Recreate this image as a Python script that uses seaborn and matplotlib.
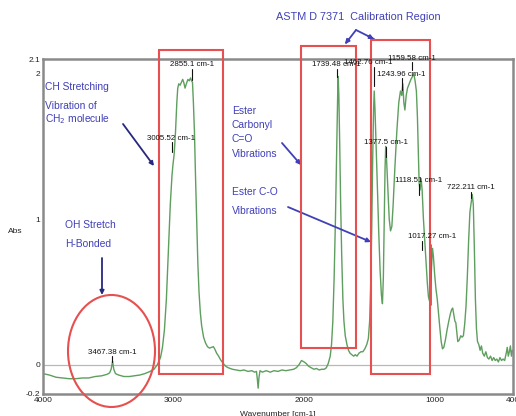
import matplotlib
matplotlib.use("Agg")
import matplotlib.pyplot as plt
import pandas as pd
import seaborn as sns
from matplotlib.patches import Rectangle, Ellipse
from matplotlib.lines import Line2D

# ---------------- data ----------------
wavenumber = [4000, 3950, 3900, 3850, 3800, 3750, 3700, 3650, 3600, 3550, 3510, 3490, 3478, 3467,
              3458, 3445, 3420, 3380, 3340, 3300, 3260, 3220, 3180, 3150, 3125, 3100, 3085, 3070,
              3055, 3040, 3025, 3012, 3005, 2995, 2985, 2975, 2968, 2960, 2950, 2940, 2930, 2922,
              2912, 2902, 2890, 2880, 2870, 2862, 2855, 2848, 2840, 2832, 2823, 2814, 2805, 2795,
              2785, 2770, 2755, 2740, 2725, 2710, 2695, 2685, 2670, 2655, 2640, 2620, 2600, 2580,
              2550, 2520, 2490, 2460, 2430, 2400, 2380, 2365, 2358, 2352, 2346, 2338, 2320, 2290,
              2260, 2230, 2200, 2170, 2140, 2110, 2080, 2060, 2040, 2020, 2000, 1985, 1965, 1945,
              1925, 1905, 1885, 1865, 1845, 1830, 1815, 1800, 1790, 1780, 1770, 1760, 1750, 1742,
              1739, 1734, 1727, 1720, 1712, 1703, 1695, 1685, 1672, 1660, 1648, 1635, 1620, 1608,
              1595, 1580, 1565, 1550, 1535, 1520, 1508, 1498, 1490, 1482, 1475, 1468, 1463, 1457,
              1448, 1438, 1428, 1418, 1408, 1400, 1393, 1386, 1380, 1375, 1368, 1358, 1348, 1338,
              1328, 1318, 1305, 1290, 1275, 1262, 1252, 1244, 1236, 1228, 1218, 1208, 1195, 1182,
              1170, 1160, 1150, 1140, 1132, 1125, 1119, 1112, 1104, 1096, 1086, 1076, 1066, 1056,
              1048, 1040, 1033, 1025, 1017, 1010, 1000, 990, 980, 970, 960, 950, 940, 930,
              918, 905, 892, 880, 870, 862, 853, 845, 838, 830, 823, 812, 800, 790,
              780, 770, 760, 750, 740, 730, 720, 712, 704, 696, 688, 680, 672, 662,
              652, 642, 632, 620, 608, 596, 585, 572, 560, 548, 536, 524, 512, 500,
              488, 476, 464, 452, 444, 436, 428, 420, 412, 404, 400]
absorbance = [-0.06, -0.07, -0.085, -0.09, -0.095, -0.095, -0.09, -0.09, -0.08, -0.075, -0.065, -0.055, -0.03, 0.025,
              -0.03, -0.06, -0.07, -0.08, -0.08, -0.075, -0.07, -0.06, -0.045, -0.03, 0.0, 0.05, 0.12, 0.24,
              0.45, 0.78, 1.1, 1.3, 1.37, 1.45, 1.6, 1.8, 1.9, 1.93, 1.92, 1.94, 1.96, 1.94,
              1.9, 1.93, 1.96, 1.95, 1.97, 1.95, 1.94, 1.8, 1.6, 1.3, 1.0, 0.7, 0.5, 0.36,
              0.27, 0.19, 0.15, 0.125, 0.115, 0.12, 0.125, 0.11, 0.08, 0.06, 0.035, 0.01, -0.01, -0.02,
              -0.03, -0.035, -0.04, -0.035, -0.045, -0.04, -0.05, -0.045, -0.1, -0.16, -0.09, -0.04, -0.05, -0.04,
              -0.05, -0.04, -0.045, -0.035, -0.04, -0.035, -0.03, -0.02, 0.0, 0.03, 0.02, 0.01, -0.01, -0.02,
              -0.03, -0.025, -0.035, -0.03, -0.03, -0.02, 0.01, 0.06, 0.14, 0.3, 0.6, 1.0, 1.5, 1.9,
              1.98, 1.85, 1.5, 1.1, 0.75, 0.45, 0.3, 0.2, 0.14, 0.1, 0.08, 0.07, 0.06, 0.07,
              0.06, 0.08, 0.09, 0.09, 0.11, 0.14, 0.18, 0.3, 0.55, 0.95, 1.4, 1.75, 1.88, 1.75,
              1.5, 1.2, 0.9, 0.65, 0.48, 0.42, 0.6, 1.0, 1.35, 1.5, 1.4, 1.2, 1.0, 0.92,
              0.95, 1.1, 1.35, 1.6, 1.8, 1.88, 1.85, 1.93, 1.8, 1.75, 1.85, 1.9, 1.93, 1.96,
              1.98, 2.0, 1.95, 1.88, 1.7, 1.45, 1.25, 1.2, 1.28, 1.2, 1.0, 0.85, 0.7, 0.56,
              0.47, 0.44, 0.52, 0.65, 0.8, 0.75, 0.62, 0.52, 0.45, 0.35, 0.25, 0.16, 0.11, 0.12,
              0.17, 0.24, 0.3, 0.35, 0.38, 0.39, 0.34, 0.3, 0.29, 0.22, 0.16, 0.17, 0.2, 0.19,
              0.2, 0.28, 0.4, 0.6, 0.85, 1.05, 1.12, 1.17, 1.1, 0.8, 0.45, 0.25, 0.16, 0.14,
              0.1, 0.13, 0.08, 0.06, 0.09, 0.05, 0.04, 0.06, 0.03, 0.05, 0.03, 0.04, 0.02, 0.05,
              0.03, 0.04, 0.03, 0.08, 0.12, 0.06, 0.09, 0.13, 0.06, 0.1, 0.09]

x_ticks = [4000, 3000, 2000, 1000, 400]
x_minor = [3500, 2500, 1500, 500]
y_ticks = [-0.2, 0, 1, 2, 2.1]
y_tick_labels = ["-0.2", "0", "1", "2", "2.1"]
y_minor = [0.5, 1.5]

peak_labels = ["3467.38 cm-1", "3005.52 cm-1", "2855.1 cm-1", "1739.48 cm-1", "1462.76 cm-1",
               "1159.58 cm-1", "1243.96 cm-1", "1377.5 cm-1", "1118.51 cm-1", "722.211 cm-1",
               "1017.27 cm-1"]

# ---------------- figure ----------------
sns.set_theme(style="white")
plt.rcParams['font.family'] = ['Liberation Sans', 'DejaVu Sans']

W, H = 516, 416
fig = plt.figure(figsize=(W / 100, H / 100), dpi=100)
ax = fig.add_axes([43 / W, 1 - 394 / H, 470 / W, 335 / H])

df = pd.DataFrame({"Wavenumber": wavenumber, "Abs": absorbance})
sns.lineplot(data=df, x="Wavenumber", y="Abs", ax=ax, color="#5e9e5e",
             linewidth=1.0, estimator=None, sort=False)
ax.set_xlim(4000, 400)
ax.set_ylim(-0.2, 2.1)
ax.axhline(0, color="#b8b8b8", lw=0.9, zorder=0)

ax.set_xticks(x_ticks)
ax.set_xticklabels([str(t) for t in x_ticks])
ax.set_xticks(x_minor, minor=True)
ax.set_yticks(y_ticks)
ax.set_yticklabels(y_tick_labels)
ax.set_yticks(y_minor, minor=True)
ax.tick_params(which="both", direction="in", color="#777777", labelsize=6.0,
               labelcolor="#222222", pad=2)
ax.tick_params(which="major", length=4, width=0.8)
ax.tick_params(which="minor", length=3, width=0.8)
for s in ax.spines.values():
    s.set_color("#8a8a8a")
    s.set_linewidth(1.8)

ax.set_xlabel("Wavenumber [cm-1]", fontsize=6.0, color="#222222")
ax.xaxis.set_label_coords(0.5, -0.052)
ax.set_ylabel("Abs", fontsize=6.0, color="#222222", rotation=0, ha="center", va="center")
ax.yaxis.set_label_coords(-0.06, 0.484)


def P(x, y):
    return (x / W, 1 - y / H)


red = "#e65050"
blue = "#4040b8"
navy = "#28287e"


def rect(x0, y0, x1, y1):
    fig.add_artist(Rectangle(P(x0, y1), (x1 - x0) / W, (y1 - y0) / H, transform=fig.transFigure,
                             fill=False, ec=red, lw=1.5, zorder=5))


rect(159, 50, 223, 374)
rect(301, 46, 356, 348)
rect(371, 40, 430, 374)
fig.add_artist(Ellipse(P(111.5, 351), 87 / W, 112 / H, transform=fig.transFigure,
                       fill=False, ec=red, lw=1.5, zorder=5))


def arrow(x0, y0, x1, y1, color):
    ax.annotate("", xy=P(x1, y1), xytext=P(x0, y0), xycoords="figure fraction",
                textcoords="figure fraction", annotation_clip=False,
                arrowprops=dict(arrowstyle="-|>", color=color, lw=1.3, mutation_scale=6,
                                shrinkA=0, shrinkB=0))


def btext(x, y, s, **kw):
    fig.text(*P(x, y), s, color=blue, fontsize=7.4, ha="left", va="center", **kw)


btext(45, 87, "CH Stretching")
btext(45, 106, "Vibration of")
btext(45, 119, "CH$_2$ molecule")
arrow(123, 124, 154, 166, navy)

btext(232, 111, "Ester")
btext(232, 125, "Carbonyl")
btext(232, 139, "C=O")
btext(232, 154, "Vibrations")
arrow(282, 143, 301, 165, blue)

btext(232, 192, "Ester C-O")
btext(232, 211, "Vibrations")
arrow(288, 207, 371, 242, blue)

btext(65, 225, "OH Stretch")
btext(65, 244, "H-Bonded")
arrow(102, 258, 102, 295, navy)

fig.text(*P(358, 17), "ASTM D 7371  Calibration Region", color=blue, fontsize=7.8,
         ha="center", va="center")
fig.add_artist(Line2D([356 / W, 346 / W], [1 - 30 / H, 1 - 43 / H], transform=fig.transFigure,
                      color=blue, lw=1.3))
fig.add_artist(Line2D([356 / W, 374 / W], [1 - 30 / H, 1 - 39 / H], transform=fig.transFigure,
                      color=blue, lw=1.3))
arrow(349, 39, 345, 44, blue)
arrow(368, 36, 374, 39, blue)

# peak labels with marker ticks
label_pos = [(112, 352, 112, 356, 362), (171, 138, 172, 142, 152), (192, 65, 192, 69, 80),
             (336, 65, 337, 69, 77), (368, 63, 374, 67, 86), (412, 58, 412, 62, 70),
             (401, 74, 402, 78, 90), (386, 143, 386, 147, 157), (419, 180, 419, 184, 195),
             (471, 188, 471, 192, 198), (432, 237, 422, 241, 250)]
for text, (cx, cy, tx, ty0, ty1) in zip(peak_labels, label_pos):
    fig.text(*P(cx, cy), text, fontsize=5.7, color="#111111", ha="center", va="center", zorder=6)
    fig.add_artist(Line2D([tx / W, tx / W], [1 - ty0 / H, 1 - ty1 / H], transform=fig.transFigure,
                          color="#111111", lw=0.8))
fig.add_artist(Line2D([431 / W, 431 / W], [1 - 245 / H, 1 - 305 / H], transform=fig.transFigure,
                      color="#d04040", lw=1.2))

fig.savefig("out.png", dpi=100, facecolor="white")
